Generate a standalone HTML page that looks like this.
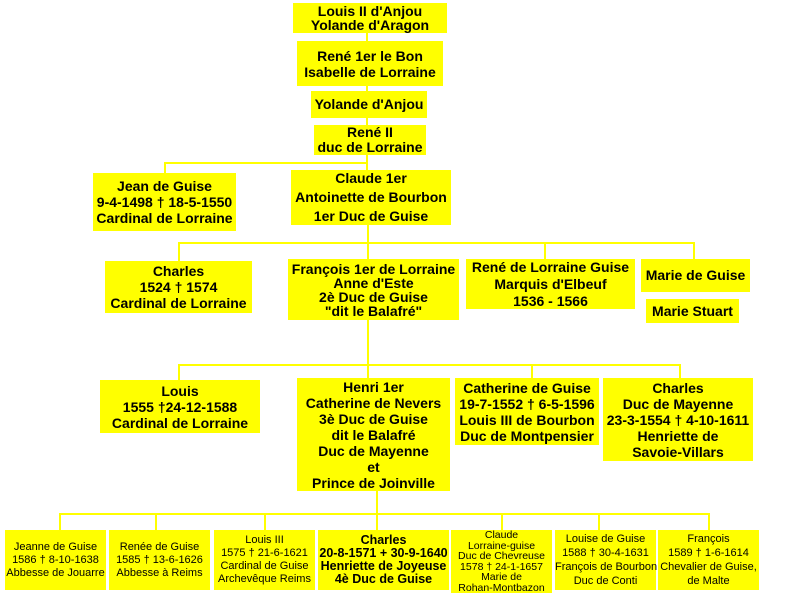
<!DOCTYPE html>
<html><head><meta charset="utf-8"><style>
html,body{margin:0;padding:0;background:#fff;width:800px;height:595px;overflow:hidden}
.b{position:absolute;background:#ffff00;color:#000;font-family:"Liberation Sans",sans-serif;font-weight:bold;font-size:14px;line-height:15px;text-align:center;white-space:nowrap;box-sizing:border-box;display:flex;flex-direction:column;justify-content:center}
.n{font-weight:normal;font-size:11px;line-height:13px}
.h{position:absolute;background:#ffff00;height:2px}
.v{position:absolute;background:#ffff00;width:2px}
</style></head><body>
<div class="v" style="left:366px;top:33px;height:137px"></div>
<div class="h" style="left:164px;top:162px;width:204px"></div>
<div class="v" style="left:164px;top:162px;height:11px"></div>
<div class="v" style="left:367px;top:224px;height:36px"></div>
<div class="h" style="left:178px;top:242px;width:517px"></div>
<div class="v" style="left:178px;top:242px;height:19px"></div>
<div class="v" style="left:544px;top:242px;height:18px"></div>
<div class="v" style="left:693px;top:242px;height:18px"></div>
<div class="v" style="left:367px;top:320px;height:58px"></div>
<div class="h" style="left:178px;top:364px;width:503px"></div>
<div class="v" style="left:178px;top:364px;height:16px"></div>
<div class="v" style="left:531px;top:364px;height:14px"></div>
<div class="v" style="left:679px;top:364px;height:14px"></div>
<div class="v" style="left:376px;top:491px;height:39px"></div>
<div class="h" style="left:59px;top:513px;width:651px"></div>
<div class="v" style="left:59px;top:513px;height:17px"></div>
<div class="v" style="left:155px;top:513px;height:17px"></div>
<div class="v" style="left:264px;top:513px;height:17px"></div>
<div class="v" style="left:501px;top:513px;height:17px"></div>
<div class="v" style="left:598px;top:513px;height:17px"></div>
<div class="v" style="left:708px;top:513px;height:17px"></div>

<div class="b" style="left:293px;top:3px;width:154px;height:30px;line-height:14px">Louis II d'Anjou<br>Yolande d'Aragon</div>
<div class="b" style="left:297px;top:41px;width:146px;height:45px;line-height:16px">René 1er le Bon<br>Isabelle de Lorraine</div>
<div class="b" style="left:311px;top:91px;width:116px;height:27px">Yolande d'Anjou</div>
<div class="b" style="left:314px;top:125px;width:112px;height:30px;line-height:15px">René II<br>duc de Lorraine</div>
<div class="b" style="left:93px;top:173px;width:143px;height:58px;line-height:16px">Jean de Guise<br>9-4-1498 † 18-5-1550<br>Cardinal de Lorraine</div>
<div class="b" style="left:291px;top:170px;width:160px;height:55px;line-height:19px">Claude 1er<br>Antoinette de Bourbon<br>1er Duc de Guise</div>
<div class="b" style="left:105px;top:261px;width:147px;height:52px;line-height:16px">Charles<br>1524 † 1574<br>Cardinal de Lorraine</div>
<div class="b" style="left:288px;top:259px;width:171px;height:61px;line-height:14px">François 1er de Lorraine<br>Anne d'Este<br>2è Duc de Guise<br>"dit le Balafré"</div>
<div class="b" style="left:466px;top:259px;width:169px;height:50px;line-height:17px">René de Lorraine Guise<br>Marquis d'Elbeuf<br>1536 - 1566</div>
<div class="b" style="left:641px;top:259px;width:109px;height:33px">Marie de Guise</div>
<div class="b" style="left:646px;top:299px;width:93px;height:24px">Marie Stuart</div>
<div class="b" style="left:100px;top:380px;width:160px;height:53px;line-height:16px">Louis<br>1555 †24-12-1588<br>Cardinal de Lorraine</div>
<div class="b" style="left:297px;top:378px;width:153px;height:113px;line-height:16px">Henri 1er<br>Catherine de Nevers<br>3è Duc de Guise<br>dit le Balafré<br>Duc de Mayenne<br>et<br>Prince de Joinville</div>
<div class="b" style="left:455px;top:378px;width:144px;height:67px;line-height:16px">Catherine de Guise<br>19-7-1552 † 6-5-1596<br>Louis III de Bourbon<br>Duc de Montpensier</div>
<div class="b" style="left:603px;top:378px;width:150px;height:83px;line-height:16px">Charles<br>Duc de Mayenne<br>23-3-1554 † 4-10-1611<br>Henriette de<br>Savoie-Villars</div>

<div class="b n" style="left:5px;top:530px;width:101px;height:60px">Jeanne de Guise<br>1586 † 8-10-1638<br>Abbesse de Jouarre</div>
<div class="b n" style="left:109px;top:530px;width:101px;height:60px">Renée de Guise<br>1585 † 13-6-1626<br>Abbesse à Reims</div>
<div class="b n" style="left:214px;top:530px;width:101px;height:60px">Louis III<br>1575 † 21-6-1621<br>Cardinal de Guise<br>Archevêque Reims</div>
<div class="b" style="left:318px;top:530px;width:131px;height:60px;font-size:12.5px;line-height:13px">Charles<br>20-8-1571 + 30-9-1640<br>Henriette de Joyeuse<br>4è Duc de Guise</div>
<div class="b n" style="left:451px;top:530px;width:101px;height:63px;font-size:10.5px;line-height:10.5px">Claude<br>Lorraine-guise<br>Duc de Chevreuse<br>1578 † 24-1-1657<br>Marie de<br>Rohan-Montbazon</div>
<div class="b n" style="left:555px;top:530px;width:101px;height:60px;line-height:14px">Louise de Guise<br>1588 † 30-4-1631<br>François de Bourbon<br>Duc de Conti</div>
<div class="b n" style="left:658px;top:530px;width:101px;height:60px;line-height:14px">François<br>1589 † 1-6-1614<br>Chevalier de Guise,<br>de Malte</div>
</body></html>
